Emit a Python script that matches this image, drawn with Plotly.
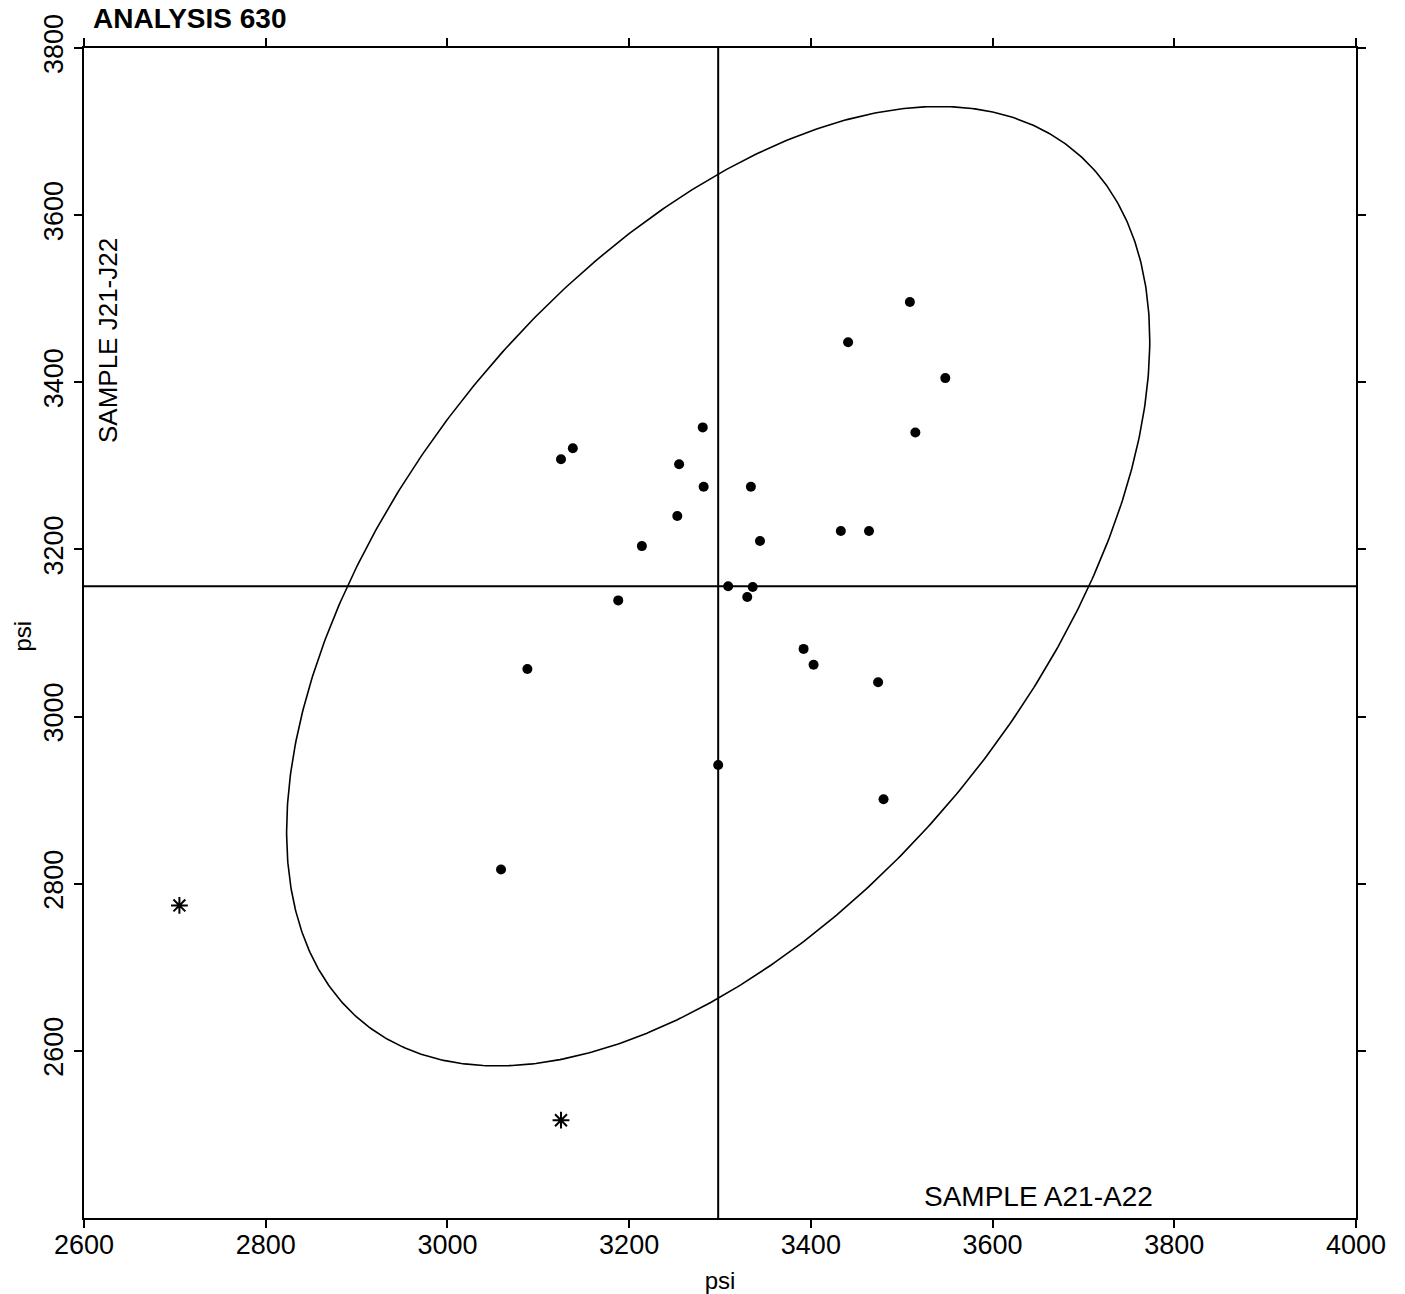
import numpy as np
import plotly.graph_objects as go

# Data points (SAMPLE A21-A22 vs SAMPLE J21-J22), psi
x_in = [3509, 3441, 3548, 3515, 3281, 3138, 3125, 3255, 3282, 3334, 3253, 3214, 3344,
        3433, 3464, 3309, 3336, 3330, 3188, 3392, 3403, 3088, 3474, 3298, 3480, 3059]
y_in = [3496, 3448, 3405, 3340, 3346, 3321, 3308, 3302, 3275, 3275, 3240, 3204, 3210,
        3222, 3222, 3156, 3155, 3143, 3139, 3081, 3062, 3057, 3041, 2942, 2901, 2817]
# Outliers (asterisks)
x_out = [2705, 3125]
y_out = [2774, 2517]

# Reference lines (means)
x_mean = 3298
y_mean = 3156

# Ellipse parameters (half-extent in x, y and correlation)
ell_sx = 475
ell_sy = 574
ell_rho = 0.512

x_ticks = [2600, 2800, 3000, 3200, 3400, 3600, 3800, 4000]
y_ticks = [2600, 2800, 3000, 3200, 3400, 3600, 3800]

t = np.linspace(0, 2 * np.pi, 721)
ex = x_mean + ell_sx * np.cos(t)
ey = y_mean + ell_sy * (ell_rho * np.cos(t) + np.sqrt(1 - ell_rho ** 2) * np.sin(t))

FONT = "Liberation Sans, Arial, sans-serif"

fig = go.Figure()
fig.add_trace(go.Scatter(x=ex, y=ey, mode="lines",
                         line=dict(color="black", width=1.6), hoverinfo="skip"))
fig.add_trace(go.Scatter(x=x_in, y=y_in, mode="markers",
                         marker=dict(color="black", size=10, symbol="circle")))
fig.add_trace(go.Scatter(x=x_out, y=y_out, mode="markers",
                         marker=dict(color="black", size=14, symbol="asterisk-open",
                                     line=dict(color="black", width=2))))

fig.add_shape(type="line", xref="x", yref="paper", x0=x_mean, x1=x_mean, y0=0, y1=1,
              line=dict(color="black", width=2))
fig.add_shape(type="line", xref="paper", yref="y", x0=0, x1=1, y0=y_mean, y1=y_mean,
              line=dict(color="black", width=2))

fig.add_annotation(text="ANALYSIS 630", xref="paper", yref="paper", x=0.0055, y=1.0256,
                   xanchor="left", yanchor="middle", showarrow=False,
                   font=dict(family=FONT, size=28, color="black", weight="bold"))
fig.add_annotation(text="SAMPLE A21-A22", xref="paper", yref="paper", x=0.75, y=0.0188,
                   xanchor="center", yanchor="middle", showarrow=False,
                   font=dict(family=FONT, size=28, color="black"))
fig.add_annotation(text="SAMPLE J21-J22", xref="paper", yref="paper", x=0.0185, y=0.75,
                   xanchor="center", yanchor="middle", showarrow=False, textangle=-90,
                   font=dict(family=FONT, size=26, color="black"))
# y-axis title
fig.add_annotation(text="psi", xref="paper", yref="paper", x=-0.0487, y=0.497,
                   xanchor="center", yanchor="middle", showarrow=False, textangle=-90,
                   font=dict(family=FONT, size=24, color="black"))

axis_common = dict(showgrid=False, zeroline=False, showline=True, linecolor="black",
                   linewidth=2, mirror="ticks", ticks="outside", ticklen=8, tickwidth=1.5,
                   tickcolor="black", automargin=False,
                   tickfont=dict(family=FONT, size=27, color="black"))

fig.update_xaxes(range=[2600, 4000], tickvals=x_ticks, ticklabelstandoff=-6,
                 title=dict(text="psi", standoff=14, font=dict(family=FONT, size=24, color="black")),
                 **axis_common)
fig.update_yaxes(range=[2400, 3800], tickvals=y_ticks, tickangle=-90,
                 **axis_common)

fig.update_layout(width=1405, height=1294, showlegend=False,
                  margin=dict(l=84, r=49, t=48, b=76, pad=0),
                  plot_bgcolor="white", paper_bgcolor="white",
                  font=dict(family=FONT, color="black"))

fig.write_html("out.html")
